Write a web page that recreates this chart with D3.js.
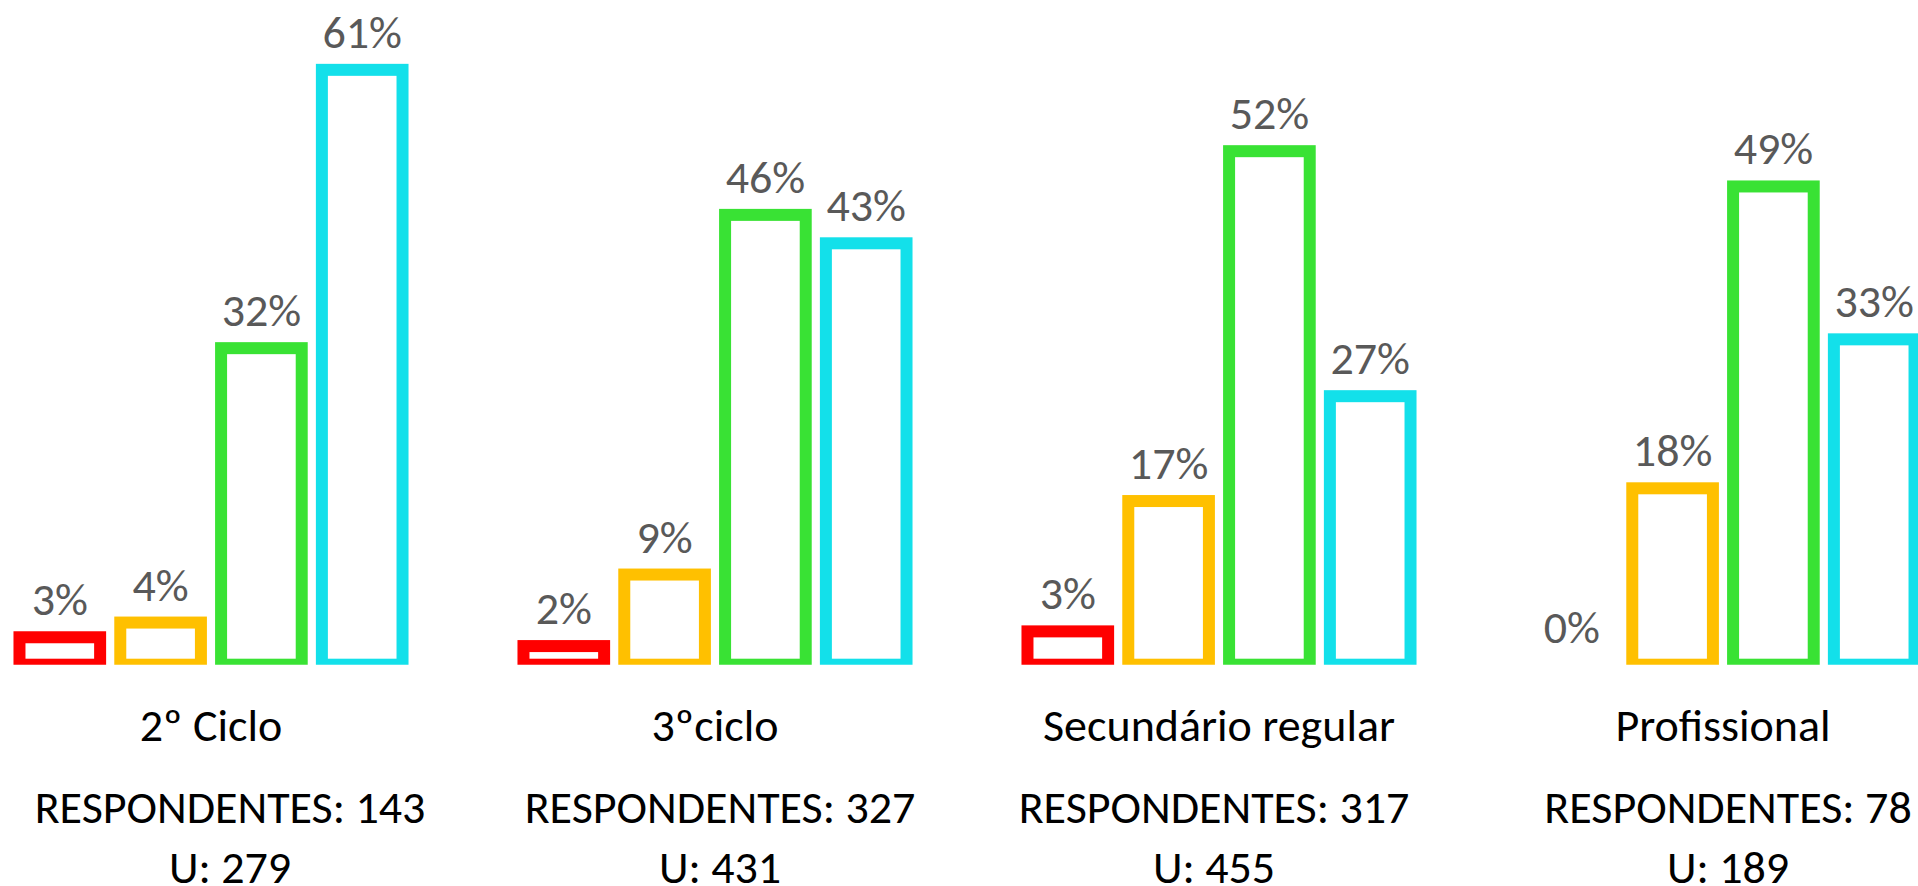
<!DOCTYPE html>
<html>
<head>
<meta charset="utf-8">
<script src="https://cdn.jsdelivr.net/npm/d3@7"></script>
<style>
  body { margin: 0; background: #fff; }
  text { font-family: Carlito, Calibri, Lato, sans-serif; }
</style>
</head>
<body>
<script>
var width = 1918, height = 886;

// categorias (ciclos de ensino)
var categorias = ["2º Ciclo", "3ºciclo", "Secundário regular", "Profissional"];
var respondentes = [143, 327, 317, 78];
var universo = [279, 431, 455, 189];

// uma serie por cor (fracao)
var series = ["vermelho", "amarelo", "verde", "azul"];
var serieVermelho = [0.028, 0.019, 0.034, 0.000];
var serieAmarelo = [0.043, 0.092, 0.167, 0.180];
var serieVerde = [0.323, 0.459, 0.524, 0.488];
var serieAzul = [0.607, 0.430, 0.274, 0.332];
var cores = ["#ff0000", "#ffc000", "#39e234", "#13e0ea"];

var valores = [serieVermelho, serieAmarelo, serieVerde, serieAzul];

var baseline = 664.7;
var tamanho = "46px";
// as caixas de texto "RESPONDENTES" nao estao bem centradas no original
var ajusteCaixa = [19, 5, -5, 5];

var svg = d3.select("body")
    .append("svg")
    .attr("width", width)
    .attr("height", height);

// o grafico original esta cortado dos dois lados
var x0 = d3.scaleBand()
    .domain(categorias)
    .range([-41, -41 + 504 * categorias.length])
    .paddingInner(0)
    .paddingOuter(0);

var x1 = d3.scaleBand()
    .domain(series)
    .range([0, x0.bandwidth()])
    .paddingInner(0.2)
    .paddingOuter(0.6);

var y = d3.scaleLinear()
    .domain([0, 0.65])
    .range([baseline, baseline - 637]);

var pct = d3.format(".0%");

// a metade de baixo do contorno fica escondida pelo eixo
svg.append("defs").append("clipPath")
    .attr("id", "area")
    .append("rect")
    .attr("x", 0)
    .attr("y", 0)
    .attr("width", width)
    .attr("height", baseline);

var grupos = svg.selectAll("g.grupo")
    .data(categorias)
    .enter()
    .append("g")
    .attr("class", "grupo")
    .attr("transform", function (d) { return "translate(" + x0(d) + ",0)"; });

var barras = grupos.selectAll("g.barra")
    .data(function (d, i) {
        return series.map(function (s, j) {
            return { serie: s, valor: valores[j][i], cor: cores[j] };
        });
    })
    .enter()
    .append("g")
    .attr("class", "barra");

barras.filter(function (d) { return d.valor > 0; })
    .append("rect")
    .attr("clip-path", "url(#area)")
    .attr("x", function (d) { return x1(d.serie); })
    .attr("y", function (d) { return y(d.valor); })
    .attr("width", x1.bandwidth())
    .attr("height", function (d) { return baseline - y(d.valor); })
    .style("fill", "none")
    .style("stroke", function (d) { return d.cor; })
    .style("stroke-width", 12);

barras.append("text")
    .attr("x", function (d) { return x1(d.serie) + x1.bandwidth() / 2; })
    .attr("y", function (d) { return y(d.valor) - 22; })
    .attr("text-anchor", "middle")
    .style("font-size", tamanho)
    .style("fill", "#595959")
    .text(function (d) { return pct(d.valor); });

// rotulos das categorias
grupos.append("text")
    .attr("x", x0.bandwidth() / 2)
    .attr("y", 741)
    .attr("text-anchor", "middle")
    .style("font-size", tamanho)
    .style("fill", "#000")
    .text(function (d) { return d; });

grupos.append("text")
    .attr("x", function (d, i) { return x0.bandwidth() / 2 + ajusteCaixa[i]; })
    .attr("y", 823)
    .attr("text-anchor", "middle")
    .style("font-size", tamanho)
    .style("fill", "#000")
    .text(function (d, i) { return "RESPONDENTES: " + respondentes[i]; });

grupos.append("text")
    .attr("x", function (d, i) { return x0.bandwidth() / 2 + ajusteCaixa[i]; })
    .attr("y", 883)
    .attr("text-anchor", "middle")
    .style("font-size", tamanho)
    .style("fill", "#000")
    .text(function (d, i) { return "U: " + universo[i]; });
</script>
</body>
</html>
